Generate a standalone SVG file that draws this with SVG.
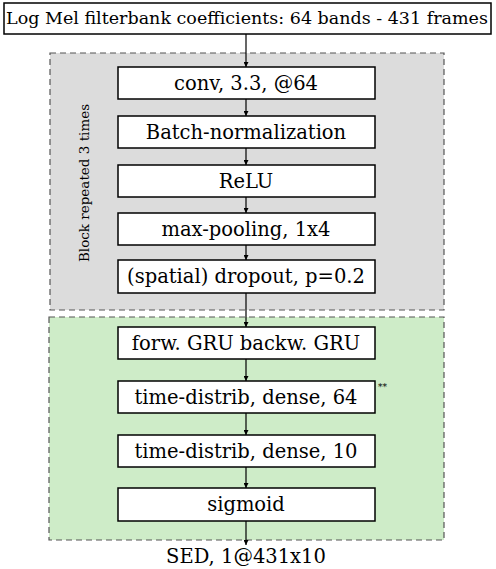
<svg xmlns="http://www.w3.org/2000/svg" width="496" height="569" viewBox="0 0 496 569">
<style>
text{font-family:"DejaVu Serif",serif;fill:#000}
.t{font-size:19.5px;text-anchor:middle}
.b{fill:#fff;stroke:#000;stroke-width:1.5}
.r{stroke:#555;stroke-width:1.2;stroke-dasharray:6,4}
.c{stroke:#000;stroke-width:1.2;fill:none;marker-end:url(#a)}
</style>
<defs><marker id="a" viewBox="0 0 6 6" refX="6" refY="3" markerWidth="5" markerHeight="5" markerUnits="userSpaceOnUse" orient="auto"><path d="M0,0L6,3L0,6z" fill="#000"/></marker></defs>
<rect width="496" height="569" fill="#fff"/>
<g id="block1"><rect class="r" x="50" y="53" width="394" height="257" fill="#dcdcdc"/>
<text x="89" y="183" font-size="13.5" text-anchor="middle" transform="rotate(-90 89 183)">Block repeated 3 times</text></g>
<g id="block2"><rect class="r" x="49" y="317" width="395" height="223" fill="#ceecc8"/></g>
<g id="connectors">
<path class="c" d="M246,34V67"/>
<path class="c" d="M246,99V116"/>
<path class="c" d="M246,148V165"/>
<path class="c" d="M246,197V213"/>
<path class="c" d="M246,245V260"/>
<path class="c" d="M246,293V327"/>
<path class="c" d="M246,359V381"/>
<path class="c" d="M246,413V435"/>
<path class="c" d="M246,467V488"/>
<path class="c" d="M246,521V545"/>
</g>
<g id="input"><rect class="b" x="4" y="3" width="487" height="31"/><text x="247" y="24" font-size="17.5" text-anchor="middle">Log Mel filterbank coefficients: 64 bands - 431 frames</text></g>
<g id="conv"><rect class="b" x="118" y="67" width="257" height="32"/><text class="t" x="246" y="90">conv, 3.3, @64</text></g>
<g id="bn"><rect class="b" x="118" y="116" width="257" height="32"/><text class="t" x="246" y="139">Batch-normalization</text></g>
<g id="relu"><rect class="b" x="118" y="165" width="257" height="32"/><text class="t" x="246" y="188">ReLU</text></g>
<g id="pool"><rect class="b" x="118" y="213" width="257" height="32"/><text class="t" x="246" y="236">max-pooling, 1x4</text></g>
<g id="dropout"><rect class="b" x="118" y="260" width="257" height="33"/><text class="t" x="246" y="283">(spatial) dropout, p=0.2</text></g>
<g id="gru"><rect class="b" x="118" y="327" width="257" height="32"/><text class="t" x="246" y="350">forw. GRU backw. GRU</text></g>
<g id="dense64"><rect class="b" x="118" y="381" width="257" height="32"/><text class="t" x="246" y="404">time-distrib, dense, 64</text><text x="378" y="390" font-size="9">**</text></g>
<g id="dense10"><rect class="b" x="118" y="435" width="257" height="32"/><text class="t" x="246" y="458">time-distrib, dense, 10</text></g>
<g id="sigmoid"><rect class="b" x="118" y="488" width="257" height="33"/><text class="t" x="246" y="511">sigmoid</text></g>
<g id="output"><text class="t" x="246" y="563">SED, 1@431x10</text></g>
</svg>
